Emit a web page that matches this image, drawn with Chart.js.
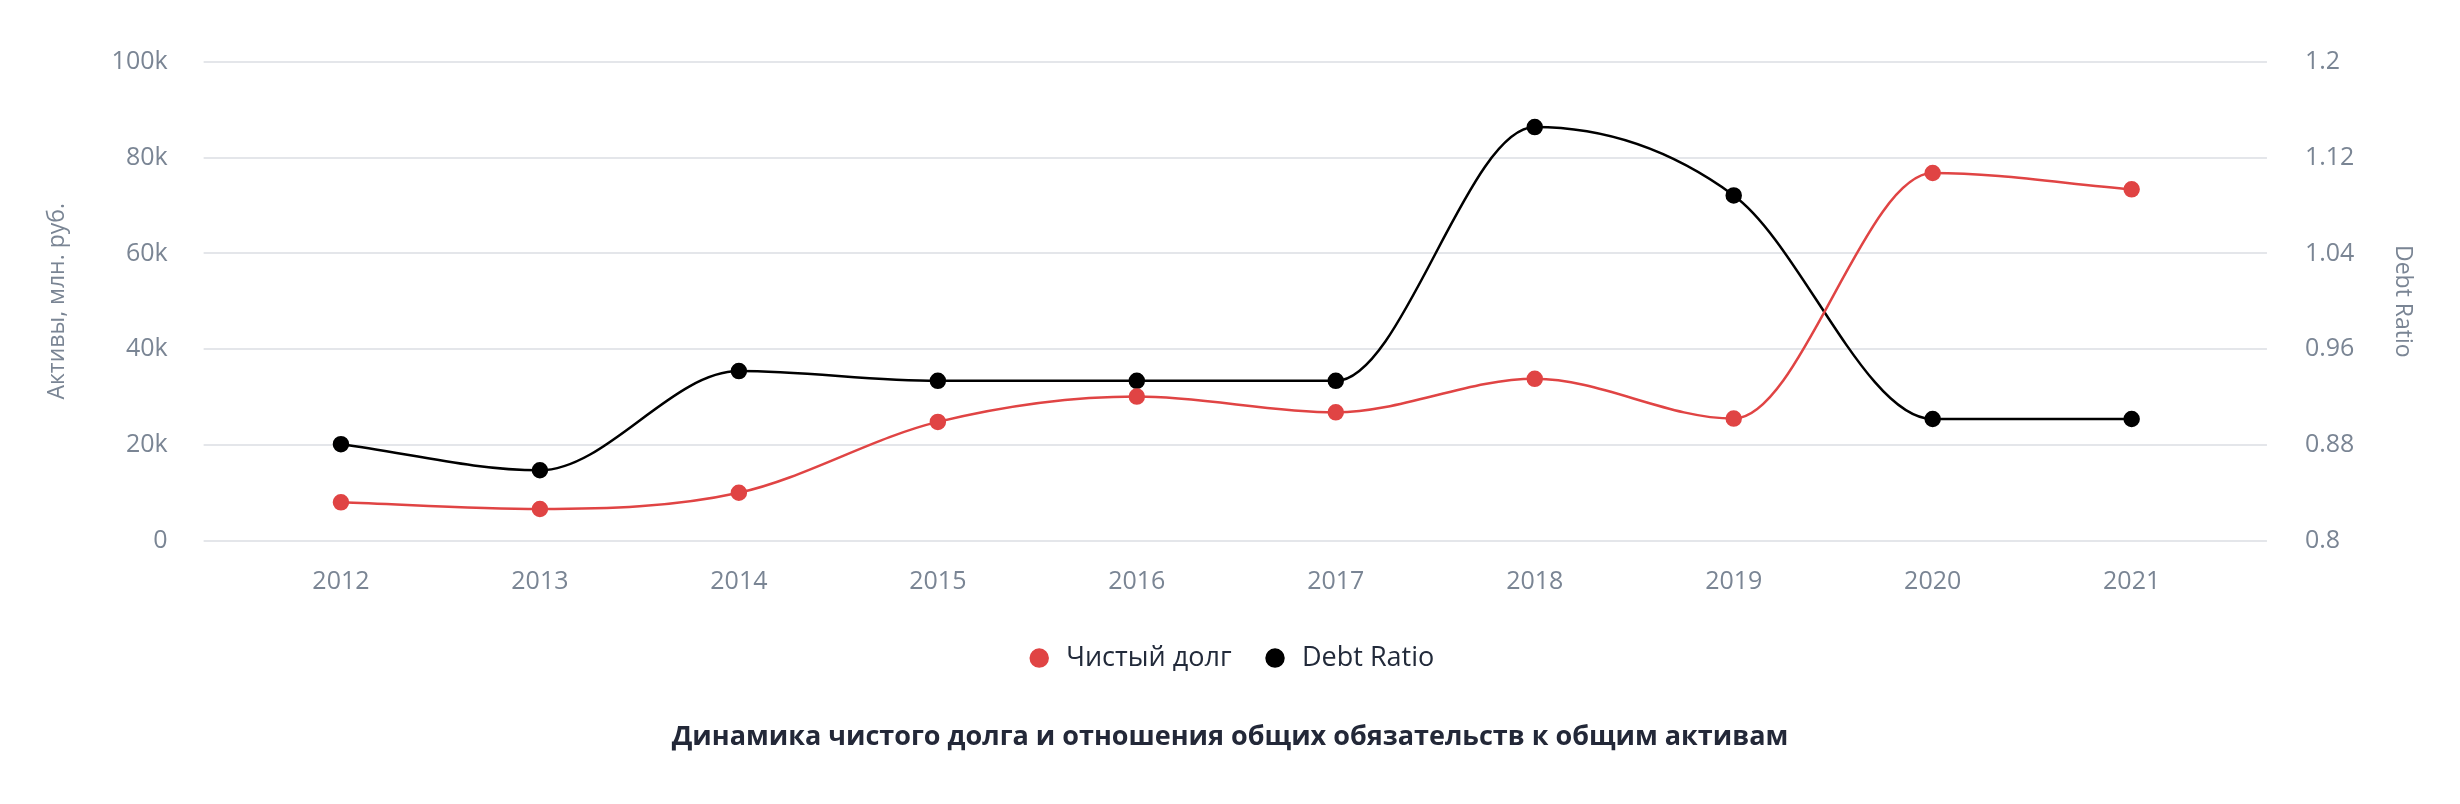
<!DOCTYPE html>
<html>
<head>
<meta charset="utf-8">
<script src="https://cdn.jsdelivr.net/npm/chart.js@4"></script>
<style>
  html, body { margin: 0; padding: 0; background: #fff; }
</style>
</head>
<body>
<canvas id="chart" width="2460" height="804"></canvas>
<script>
const years = [2012, 2013, 2014, 2015, 2016, 2017, 2018, 2019, 2020, 2021];
const netDebt = [8000, 6600, 10000, 24800, 30100, 26800, 33800, 25500, 76800, 73400];
const debtRatio = [0.8806, 0.8588, 0.9417, 0.9335, 0.9335, 0.9335, 1.1456, 1.0885, 0.9016, 0.9016];

const tickColor = '#7a8594';
const font = '"Open Sans", Lato, sans-serif';

new Chart(document.getElementById('chart'), {
  type: 'line',
  data: {
    datasets: [
      {
        label: 'Чистый долг',
        data: years.map((y, i) => ({ x: y, y: netDebt[i] })),
        yAxisID: 'y',
        borderColor: '#e04444',
        backgroundColor: '#e04444',
        borderWidth: 2.5,
        pointRadius: 7,
        pointHoverRadius: 7,
        cubicInterpolationMode: 'monotone',
      },
      {
        label: 'Debt Ratio',
        data: years.map((y, i) => ({ x: y, y: debtRatio[i] })),
        yAxisID: 'y1',
        borderColor: '#000',
        backgroundColor: '#000',
        borderWidth: 2.5,
        pointRadius: 7,
        pointHoverRadius: 7,
        cubicInterpolationMode: 'monotone',
      },
    ],
  },
  options: {
    responsive: false,
    animation: false,
    devicePixelRatio: 1,
    layout: { padding: { left: 40, right: 40, top: 62, bottom: 50 } },
    scales: {
      x: {
        type: 'linear',
        min: 2011.35,
        max: 2021.68,
        grid: { display: false },
        border: { display: false },
        afterBuildTicks: axis => { axis.ticks = years.map(v => ({ value: v })); },
        ticks: {
          color: tickColor,
          font: { family: font, size: 25 },
          padding: 18,
          callback: v => String(v),
        },
      },
      y: {
        position: 'left',
        min: 0,
        max: 100000,
        grid: { color: '#e4e6ea', lineWidth: 2 },
        border: { display: false },
        ticks: {
          stepSize: 20000,
          color: tickColor,
          font: { family: font, size: 25 },
          padding: 36,
          callback: v => v === 0 ? '0' : (v / 1000) + 'k',
        },
        title: {
          display: true,
          text: 'Активы, млн. руб.',
          color: tickColor,
          font: { family: font, size: 23 },
        },
      },
      y1: {
        position: 'right',
        min: 0.8,
        max: 1.2,
        grid: { display: false },
        border: { display: false },
        ticks: {
          stepSize: 0.08,
          color: tickColor,
          font: { family: font, size: 25 },
          padding: 30,
          callback: v => String(Math.round(v * 100) / 100),
        },
        title: {
          display: true,
          text: 'Debt Ratio',
          color: tickColor,
          font: { family: font, size: 23 },
        },
      },
    },
    plugins: {
      legend: {
        position: 'bottom',
        labels: {
          usePointStyle: true,
          pointStyle: 'circle',
          color: '#222a3a',
          font: { family: font, size: 27 },
          padding: 30,
          boxHeight: 12,
        },
      },
      title: {
        display: true,
        position: 'bottom',
        text: 'Динамика чистого долга и отношения общих обязательств к общим активам',
        color: '#232838',
        font: { family: font, size: 27, weight: 'bold' },
        padding: { top: 40, bottom: 0 },
      },
      tooltip: { enabled: false },
    },
  },
});
</script>
</body>
</html>
